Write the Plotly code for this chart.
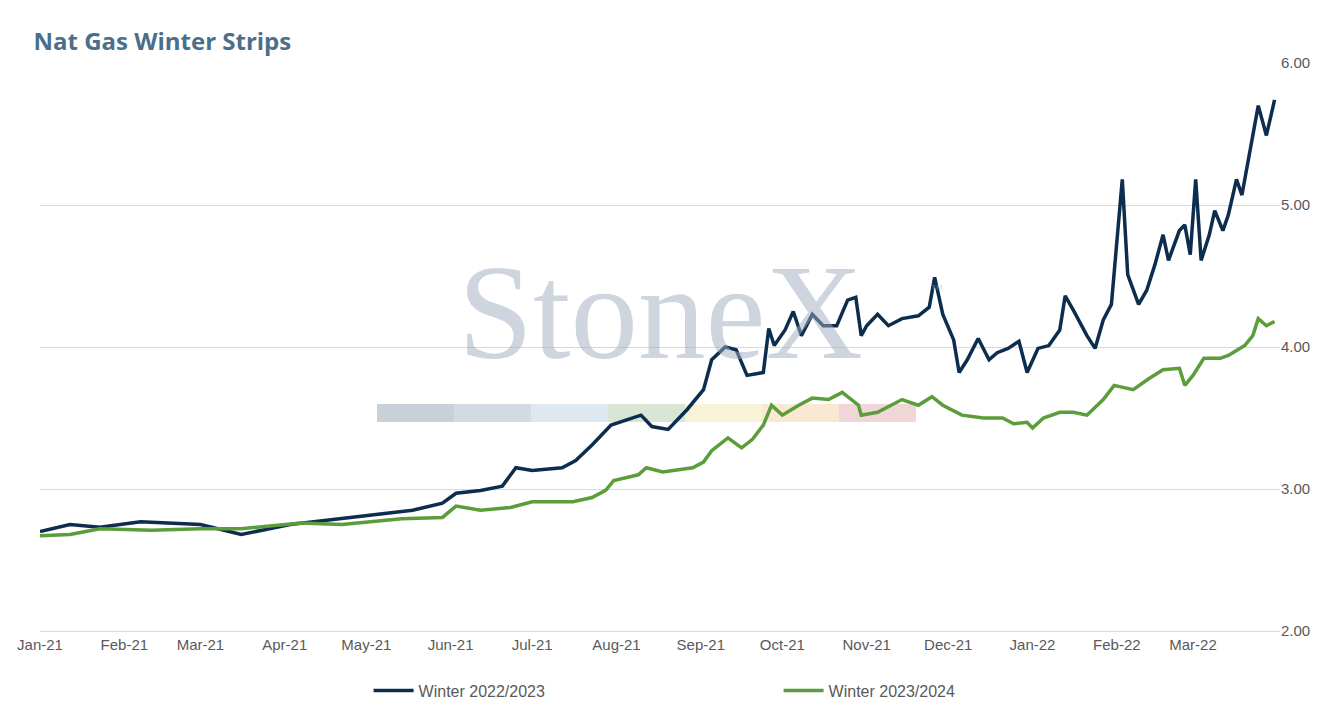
import pandas as pd
import plotly.graph_objects as go

start = pd.Timestamp("2021-01-01")

# days since 2021-01-01 and price
w22_days = [0, 11, 22, 37, 59, 74, 92, 111, 125, 137, 148, 153, 162, 170, 175, 181, 192, 197, 203, 210,
            221, 225, 231, 238, 244, 247, 252, 256, 260, 266, 268, 270, 274, 277, 280, 284, 288, 293, 297,
            300, 302, 304, 308, 312, 317, 323, 327, 329, 332, 336, 338, 341, 345, 349, 352, 356, 360, 363,
            367, 371, 375, 377, 380, 385, 388, 391, 394, 396, 398, 400, 404, 407, 410, 413, 415, 419, 421,
            423, 425, 427, 430, 432, 435, 437, 440, 442, 445, 448, 451, 454]
w22_vals = [2.70, 2.75, 2.73, 2.77, 2.75, 2.68, 2.75, 2.79, 2.82, 2.85, 2.90, 2.97, 2.99, 3.02, 3.15, 3.13,
            3.15, 3.20, 3.31, 3.45, 3.52, 3.44, 3.42, 3.56, 3.70, 3.91, 4.00, 3.98, 3.80, 3.82, 4.13, 4.01,
            4.12, 4.25, 4.08, 4.23, 4.15, 4.15, 4.33, 4.35, 4.08, 4.15, 4.23, 4.15, 4.20, 4.22, 4.28, 4.49,
            4.23, 4.05, 3.82, 3.91, 4.06, 3.91, 3.96, 3.99, 4.04, 3.82, 3.99, 4.01, 4.12, 4.36, 4.26, 4.08,
            3.99, 4.19, 4.30, 4.72, 5.18, 4.51, 4.30, 4.40, 4.58, 4.79, 4.61, 4.82, 4.86, 4.65, 5.18, 4.61,
            4.79, 4.96, 4.82, 4.93, 5.18, 5.07, 5.39, 5.70, 5.49, 5.74]

w23_days = [0, 11, 22, 41, 59, 74, 96, 111, 133, 148, 153, 162, 173, 181, 196, 203, 208, 211, 220, 223,
            229, 240, 244, 247, 253, 258, 262, 266, 269, 273, 279, 284, 290, 295, 301, 302, 308, 317, 323,
            328, 332, 339, 347, 354, 358, 363, 365, 369, 375, 380, 385, 391, 395, 399, 402, 408, 413, 419,
            421, 424, 428, 434, 437, 443, 446, 448, 451, 454]
w23_vals = [2.67, 2.68, 2.72, 2.71, 2.72, 2.72, 2.76, 2.75, 2.79, 2.80, 2.88, 2.85, 2.87, 2.91, 2.91, 2.94,
            2.99, 3.06, 3.10, 3.15, 3.12, 3.15, 3.19, 3.27, 3.36, 3.29, 3.35, 3.45, 3.59, 3.52, 3.59, 3.64,
            3.63, 3.68, 3.59, 3.52, 3.54, 3.63, 3.59, 3.65, 3.59, 3.52, 3.50, 3.50, 3.46, 3.47, 3.43, 3.50,
            3.54, 3.54, 3.52, 3.63, 3.73, 3.71, 3.70, 3.78, 3.84, 3.85, 3.73, 3.80, 3.92, 3.92, 3.94, 4.01,
            4.08, 4.20, 4.15, 4.18]

month_ticks = pd.date_range("2021-01-01", "2022-03-01", freq="MS")

w22_dates = [start + pd.Timedelta(days=d) for d in w22_days]
w23_dates = [start + pd.Timedelta(days=d) for d in w23_days]

fig = go.Figure()
fig.add_trace(go.Scatter(x=w22_dates, y=w22_vals, mode="lines", name="Winter 2022/2023",
                         line=dict(color="#0d2d4f", width=3.5)))
fig.add_trace(go.Scatter(x=w23_dates, y=w23_vals, mode="lines", name="Winter 2023/2024",
                         line=dict(color="#5b9d3b", width=3.5)))

# StoneX watermark
fig.add_annotation(text="StoneX", xref="paper", yref="paper", x=0.5, y=0.56, showarrow=False,
                   font=dict(family="Liberation Serif", size=135, color="rgba(160,172,190,0.5)"))
fig.add_annotation(text="TM", xref="paper", yref="paper", x=0.73, y=0.605, showarrow=False,
                   font=dict(family="Liberation Sans", size=8, color="rgba(160,172,190,0.5)"))
bar_colors = ["#c9d0da", "#d3dae3", "#dde8f0", "#d9e6d6", "#f8f3d8", "#f8e8d4", "#f1d6d8"]
for i, c in enumerate(bar_colors):
    fig.add_shape(type="rect", xref="paper", yref="paper",
                  x0=(337 + 77 * i) / 1240, x1=(337 + 77 * (i + 1)) / 1240,
                  y0=(631 - 422) / 568, y1=(631 - 404) / 568,
                  fillcolor=c, line=dict(width=0), layer="below")

fig.update_layout(
    width=1344, height=722,
    margin=dict(l=32, r=72, t=55, b=99, autoexpand=False),
    plot_bgcolor="white", paper_bgcolor="white",
    font=dict(family="Liberation Sans", size=15, color="#595959"),
    title=dict(text="<b>Nat Gas Winter Strips</b>", x=0.019, y=0.965, xanchor="left",
               font=dict(family="Open Sans", size=24, color="#4a6f8a")),
    legend=dict(orientation="h", x=0.265, xanchor="left", y=-0.075, yanchor="top",
                font=dict(size=16, color="#595959"), itemwidth=40, entrywidth=355),
    showlegend=True,
)
fig.update_xaxes(range=[start, start + pd.Timedelta(days=456)], tickvals=month_ticks,
                 tickformat="%b-%y", showgrid=False, showline=True, linecolor="#d9d9d9",
                 ticks="", automargin=False, tickfont=dict(size=15, color="#595959"))
fig.update_yaxes(range=[2, 6], dtick=1, side="right", tickformat=".2f", gridcolor="#d9d9d9",
                 zeroline=False, automargin=False, tickfont=dict(size=15, color="#595959"))

fig.write_html("out.html")
